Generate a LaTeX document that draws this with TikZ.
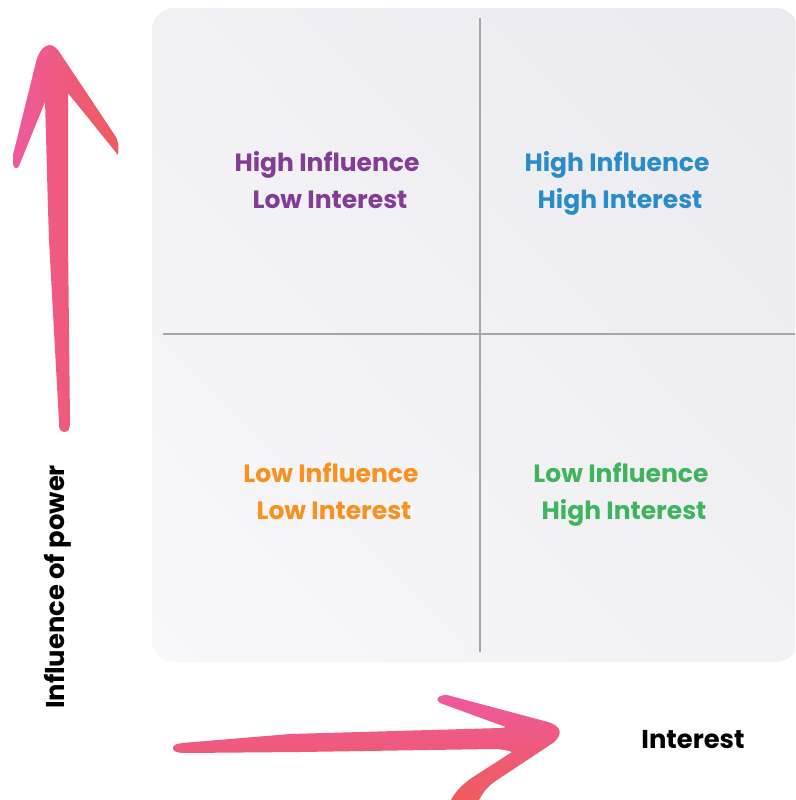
\documentclass[tikz,border=0pt]{standalone}
\usepackage{fontspec}
\setmainfont{Poppins}
\usetikzlibrary{shadings}
\definecolor{cpurple}{HTML}{833C96}
\definecolor{cblue}{HTML}{2A8BC9}
\definecolor{corange}{HTML}{F7911F}
\definecolor{cgreen}{HTML}{40B35E}
\definecolor{apink}{HTML}{EE5A9E}
\definecolor{acoral}{HTML}{F05B5E}
\definecolor{amid}{HTML}{EF5A7C}
\definecolor{panelA}{HTML}{F8F8FA}
\definecolor{panelB}{HTML}{EAEAEF}
\definecolor{panelM}{HTML}{F1F1F4}
\definecolor{gridc}{HTML}{A6A6A8}
\tikzset{
  qlabel/.style={font=\bfseries\fontsize{25}{37}\selectfont, align=center, inner sep=0pt},
  axlabel/.style={font=\bfseries\fontsize{25.8}{28}\selectfont, text=black, inner sep=0pt},
  gridline/.style={draw=gridc, line width=2pt}
}
\begin{document}
\begin{tikzpicture}[x=1pt,y=-1pt]
\useasboundingbox (0,0) rectangle (795,800);
\clip (0,0) rectangle (795,800);
% panel
\shade[rounded corners=22pt, lower left=panelA, upper left=panelM, lower right=panelM, upper right=panelB]
  (152,8) rectangle (798,662);
% grid
\coordinate (vt) at (480,18);
\coordinate (vb) at (480,652);
\coordinate (hl) at (163,334);
\coordinate (hr) at (795,334);
\draw[gridline] (vt) -- (vb);
\draw[gridline] (hl) -- (hr);
% quadrant labels
\node[qlabel, text=cpurple] (tl) at (327,183) {\strut High Influence\\ \strut\hspace*{6pt}Low Interest};
\node[qlabel, text=cblue] (tr) at (617,183) {\strut High Influence\\ \strut\hspace*{6pt}High Interest};
\node[qlabel, text=corange] (bl) at (331,494) {\strut Low Influence\\ \strut\hspace*{6pt}Low Interest};
\node[qlabel, text=cgreen] (br) at (621,494) {\strut Low Influence\\ \strut\hspace*{6pt}High Interest};
% axis labels
\node[axlabel, rotate=90] (ylab) at (58,587) {Influence of power};
\node[axlabel] (xlab) at (693,740) {Interest};
% vertical arrow
\shade[left color=apink, right color=acoral, middle color=amid]
  (64,432) .. controls (59,431) and (59,428) .. (59,422)
  -- (49,240) .. controls (47,180) and (46,130) .. (45,102)
  -- (19,166) .. controls (17,170) and (13,169) .. (13,162)
  -- (13,155) -- (36,62) .. controls (40,46) and (50,40) .. (58,50)
  -- (114,134) .. controls (119,141) and (119,146) .. (118,155)
  -- (68,93) .. controls (68,150) and (68,200) .. (68,240)
  -- (70,422) .. controls (70,430) and (68,432) .. (64,432) -- cycle;
% horizontal arrow
\shade[top color=apink, bottom color=acoral, middle color=amid]
  (173,748) .. controls (173,745) and (176,744) .. (182,743)
  -- (290,734) -- (500,728)
  .. controls (505,728) and (507,727) .. (503,726)
  -- (440,703) .. controls (435,700) and (437,695) .. (447,695)
  -- (548,722) .. controls (562,726) and (563,735) .. (553,743)
  -- (497,780) .. controls (485,788) and (482,795) .. (479,800)
  -- (451,800) .. controls (455,792) and (462,785) .. (470,779)
  -- (512,752) .. controls (507,750) and (500,749) .. (493,749)
  -- (300,752) -- (185,753) .. controls (176,753) and (173,751) .. (173,748) -- cycle;
\end{tikzpicture}
\end{document}
